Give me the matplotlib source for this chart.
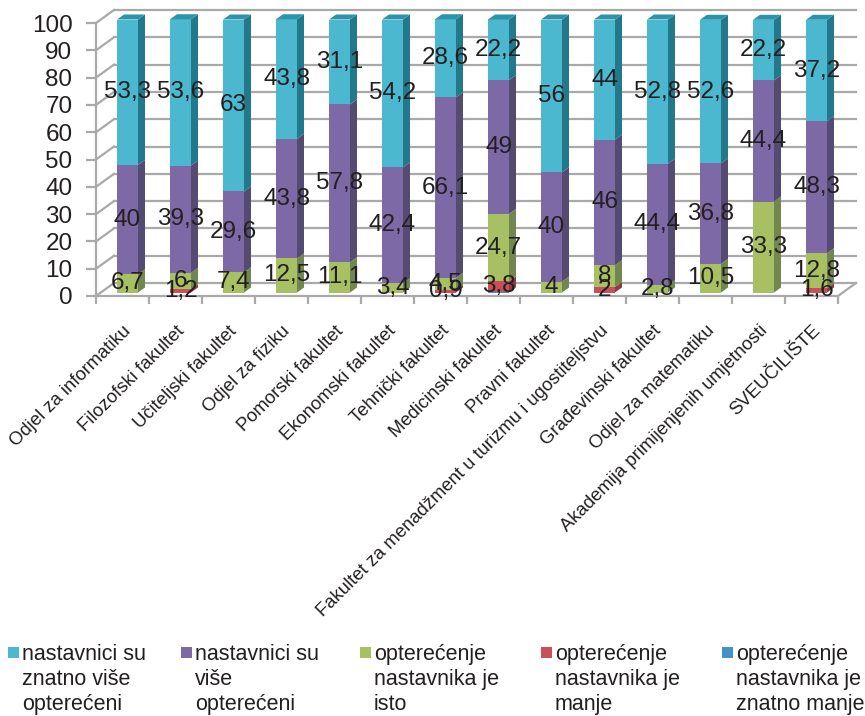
import matplotlib
matplotlib.use("Agg")
import matplotlib.pyplot as plt
from matplotlib.patches import Polygon, Rectangle
from matplotlib.transforms import Affine2D

plt.rcParams["font.family"] = ["Liberation Sans", "DejaVu Sans"]

faculties = ["Odjel za informatiku", "Filozofski fakultet", "Učiteljski fakultet", "Odjel za fiziku",
             "Pomorski fakultet", "Ekonomski fakultet", "Tehnički fakultet", "Medicinski fakultet",
             "Pravni fakultet", "Fakultet za menadžment u turizmu i ugostiteljstvu", "Građevinski fakultet",
             "Odjel za matematiku", "Akademija primijenjenih umjetnosti", "SVEUČILIŠTE"]
znatno_manje = [0, 0, 0, 0, 0, 0, 0, 0.3, 0, 0, 0, 0, 0, 0]
manje = [0, 1.2, 0, 0, 0, 0, 0.9, 3.8, 0, 2, 0, 0, 0, 1.6]
isto = [6.7, 6, 7.4, 12.5, 11.1, 3.4, 4.5, 24.7, 4, 8, 2.8, 10.5, 33.3, 12.8]
vise = [40, 39.3, 29.6, 43.8, 57.8, 42.4, 66.1, 49, 40, 46, 44.4, 36.8, 44.4, 48.3]
znatno_vise = [53.3, 53.6, 63, 43.8, 31.1, 54.2, 28.6, 22.2, 56, 44, 52.8, 52.6, 22.2, 37.2]

# stacked bottom to top: values, front, side, top, legend text
series = [
    (znatno_manje, "#4490C8", "#2E6A96", "#3A7DAE", "opterećenje\nnastavnika je\nznatno manje"),
    (manje, "#C8505A", "#8E3A40", "#A84650", "opterećenje\nnastavnika je\nmanje"),
    (isto, "#A8C064", "#728650", "#8AA058", "opterećenje\nnastavnika je\nisto"),
    (vise, "#7D69A5", "#544A72", "#66578A", "nastavnici su\nviše\nopterećeni"),
    (znatno_vise, "#4BB8D0", "#23798C", "#2C93A8", "nastavnici su\nznatno više\nopterećeni"),
]

W, H = 865, 716
GRID = "#A9A9A9"
INK = "#231F20"
X_PX = 53.0    # px per category
Y_PX = 2.73    # px per percent
BAR_W = 21 / X_PX
DEPTH_X, DEPTH_Y = 7 / X_PX, 5 / Y_PX
WALL_X, WALL_Y = 18 / X_PX, 13 / Y_PX


def shift(ax, dx, dy):
    return ax.transData + Affine2D().translate(dx, dy)


fig = plt.figure(figsize=(W / 100, H / 100), dpi=100)
ax = fig.add_axes([96 / W, 1 - 296 / H, (838 - 96) / W, (296 - 23) / H])
ax.patch.set_visible(False)
ax.set_xlim(-0.5, 13.5)
ax.set_ylim(0, 100)
for s in ("top", "right"):
    ax.spines[s].set_visible(False)
for s in ("left", "bottom"):
    ax.spines[s].set_color(GRID)
    ax.spines[s].set_linewidth(1.6)

# back wall, side wall and floor
for v in range(0, 101, 10):
    y = v + WALL_Y
    ax.plot([-0.5, -0.5 + WALL_X], [v, y], color=GRID, lw=1.6, clip_on=False, zorder=1)
    ax.plot([-0.5 + WALL_X, 13.5 + WALL_X], [y, y], color=GRID, lw=1.6, clip_on=False, zorder=1)
ax.plot([13.5, 13.5 + WALL_X], [0, WALL_Y], color=GRID, lw=1.6, clip_on=False, zorder=1)

# 3D looking stacks: front face through bar(), side and cap as polygons
bar_tf = shift(ax, 5, 3.5)
bottom = [0.0] * len(faculties)
for values, front, side, top, _ in series:
    ax.bar(range(len(faculties)), values, BAR_W, bottom=bottom, color=front, lw=0,
           transform=bar_tf, clip_on=False, zorder=3)
    for i, (val, base) in enumerate(zip(values, bottom)):
        if val == 0:
            continue
        x1 = i + BAR_W / 2
        ax.add_patch(Polygon([(x1, base), (x1 + DEPTH_X, base + DEPTH_Y),
                              (x1 + DEPTH_X, base + val + DEPTH_Y), (x1, base + val)],
                             fc=side, lw=0, transform=bar_tf, clip_on=False, zorder=3))
    bottom = [b + v for b, v in zip(bottom, values)]

# cap takes the colour of the topmost series
for i, total in enumerate(bottom):
    x0, x1 = i - BAR_W / 2, i + BAR_W / 2
    ax.add_patch(Polygon([(x0, total), (x0 + DEPTH_X, total + DEPTH_Y),
                          (x1 + DEPTH_X, total + DEPTH_Y), (x1, total)],
                         fc=series[-1][3], lw=0, transform=bar_tf, clip_on=False, zorder=3))

# value labels, blue slivers stay unlabelled
bottom = [0.0] * len(faculties)
for n, (values, *_rest) in enumerate(series):
    for i, (val, base) in enumerate(zip(values, bottom)):
        if val > 0 and n > 0:
            ax.text(i, base + val / 2, f"{val:g}".replace(".", ","), ha="center", va="center",
                    fontsize=17.5, color=INK, transform=bar_tf, clip_on=False, zorder=5)
    bottom = [b + v for b, v in zip(bottom, values)]

ax.set_yticks(range(0, 101, 10))
ax.tick_params(axis="y", length=7, width=1.6, color=GRID, labelsize=17.5, labelcolor=INK, pad=10)
ax.set_xticks(range(len(faculties)))
ax.set_xticklabels(faculties, rotation=45, ha="right", rotation_mode="anchor", fontsize=13.3, color=INK)
ax.set_xticks([i - 0.5 for i in range(len(faculties) + 1)], minor=True)
ax.tick_params(axis="x", which="major", length=0, pad=19)
ax.tick_params(axis="x", which="minor", length=6, width=1.6, color=GRID)

# legend along the bottom, left to right
legend_x = [8, 181, 360, 541, 722]
for px, (_v, front, _s, _t, label) in zip(legend_x, reversed(series)):
    fig.add_artist(Rectangle((px / W, 1 - 658 / H), 11 / W, 11 / H, fc=front, lw=0,
                             transform=fig.transFigure))
    fig.text((px + 14) / W, 1 - 644 / H, label, fontsize=15.5, color=INK, va="top", ha="left",
             linespacing=1.24)

fig.savefig("out.png", dpi=100)
